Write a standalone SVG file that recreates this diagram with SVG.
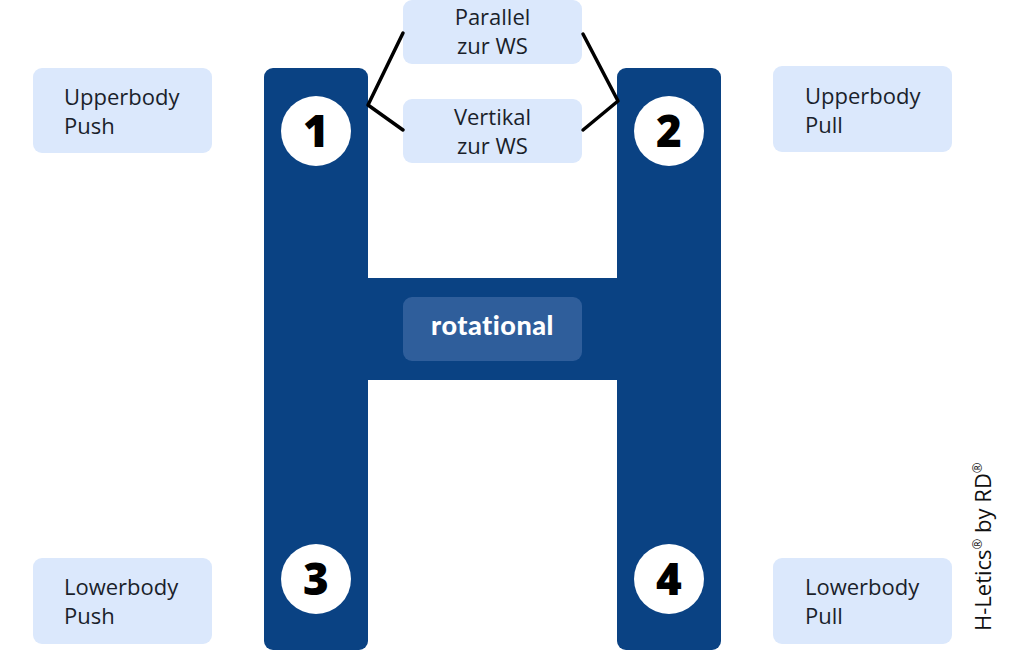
<svg xmlns="http://www.w3.org/2000/svg" width="1024" height="651" viewBox="0 0 1024 651">
<style>
.lb{fill:#dbe8fc}
.bar{fill:#0a4283}
.lt{font-family:"Open Sans","Liberation Sans",sans-serif;font-size:22px;fill:#1a1f2b}
.num{font-family:"Open Sans","Liberation Sans",sans-serif;font-size:44px;font-weight:800;fill:#000;text-anchor:middle}
.ln{stroke:#000;stroke-width:3.5;fill:none;stroke-linecap:round;stroke-linejoin:round}
</style>
<rect width="1024" height="651" fill="#fff"/>
<g id="h-structure">
<rect class="bar" x="264" y="68" width="104" height="582" rx="9"/>
<rect class="bar" x="617" y="68" width="104" height="582" rx="9"/>
<rect class="bar" x="366" y="278" width="253" height="102"/>
</g>
<g id="rotational">
<rect x="403" y="297" width="179" height="64" rx="9" fill="#2f5e9b"/>
<text x="492.500" y="335" text-anchor="middle" font-family="Lato,'Open Sans',sans-serif" font-weight="900" font-size="27" letter-spacing="0.5" fill="#fff">rotational</text>
</g>
<g id="n1"><circle cx="316" cy="131" r="35" fill="#fff"/><text class="num" x="316" y="147">1</text></g>
<g id="n2"><circle cx="669" cy="131" r="35" fill="#fff"/><text class="num" x="669" y="147">2</text></g>
<g id="n3"><circle cx="316" cy="579" r="35" fill="#fff"/><text class="num" x="316" y="595">3</text></g>
<g id="n4"><circle cx="669" cy="579" r="35" fill="#fff"/><text class="num" x="669" y="595">4</text></g>
<g id="upperbody-push">
<rect class="lb" x="33" y="68" width="179" height="85" rx="9"/>
<text class="lt" x="64" y="105">Upperbody</text><text class="lt" x="64" y="134">Push</text>
</g>
<g id="upperbody-pull">
<rect class="lb" x="773" y="66" width="179" height="86" rx="9"/>
<text class="lt" x="805" y="104">Upperbody</text><text class="lt" x="805" y="133">Pull</text>
</g>
<g id="lowerbody-push">
<rect class="lb" x="33" y="558" width="179" height="86" rx="9"/>
<text class="lt" x="64" y="595">Lowerbody</text><text class="lt" x="64" y="624">Push</text>
</g>
<g id="lowerbody-pull">
<rect class="lb" x="773" y="558" width="179" height="86" rx="9"/>
<text class="lt" x="805" y="595">Lowerbody</text><text class="lt" x="805" y="624">Pull</text>
</g>
<g id="parallel">
<rect class="lb" x="403" y="0" width="179" height="64" rx="9"/>
<text class="lt" x="492.500" y="25" text-anchor="middle">Parallel</text><text class="lt" x="492.500" y="54" text-anchor="middle">zur WS</text>
</g>
<g id="vertikal">
<rect class="lb" x="403" y="99" width="179" height="64" rx="9"/>
<text class="lt" x="492.500" y="125" text-anchor="middle">Vertikal</text><text class="lt" x="492.500" y="154" text-anchor="middle">zur WS</text>
</g>
<g id="connectors">
<polyline class="ln" points="403,33 368,105 403,130"/>
<polyline class="ln" points="583,34 618,101 583,130"/>
</g>
<g id="credit">
<text transform="translate(991,631) rotate(-90)" font-family="'Open Sans','Liberation Sans',sans-serif" font-size="22" fill="#111">H-Letics<tspan font-size="13" dy="-9">®</tspan><tspan dy="9"> by RD</tspan><tspan font-size="13" dy="-9">®</tspan></text>
</g>
</svg>
